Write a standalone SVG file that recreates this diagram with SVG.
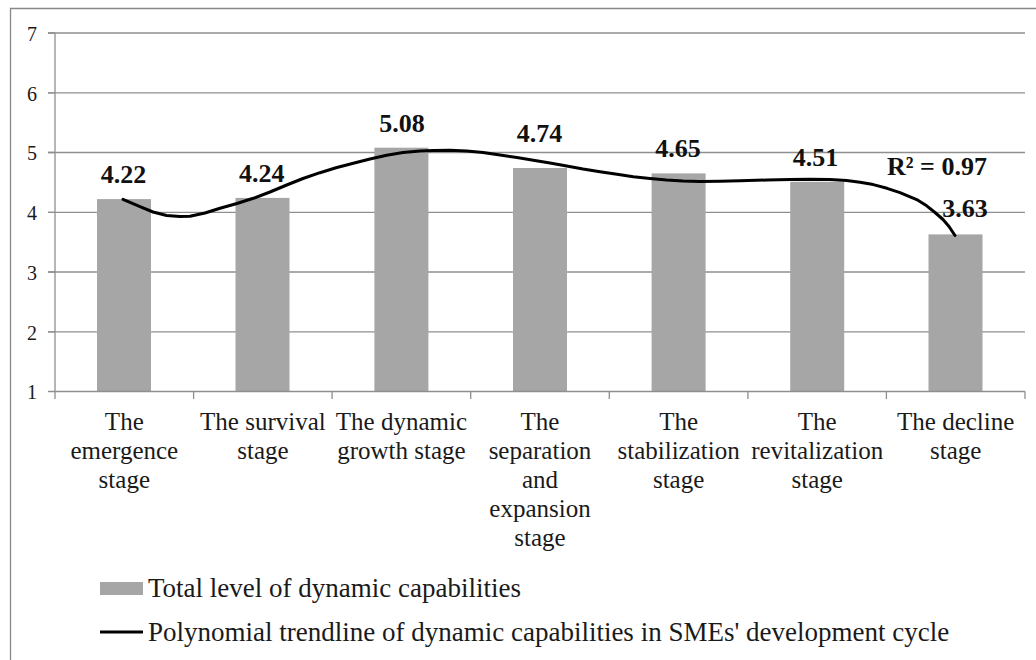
<svg xmlns="http://www.w3.org/2000/svg" width="1036" height="660" viewBox="0 0 1036 660">
<style>
.grid{stroke:#8f8f8f;stroke-width:1.3;fill:none}
.axis{stroke:#8f8f8f;stroke-width:1.3;fill:none}
.bar{fill:#a6a6a6}
text{font-family:'Liberation Serif','DejaVu Serif',serif;fill:#1a1a1a}
.tick{font-size:20px;text-anchor:end}
.cat{font-size:25px;text-anchor:middle}
.val{font-size:26px;font-weight:bold;fill:#111;text-anchor:middle}
.leg{font-size:27px}
.trend{stroke:#000;stroke-width:3;fill:none;stroke-linejoin:round;stroke-linecap:round}
</style>
<rect x="0" y="0" width="1036" height="660" fill="#fff"/>
<path d="M10.5 670 V8.5 H1040" fill="none" stroke="#888" stroke-width="1.3"/>
<g id="gridlines">
<line class="grid" x1="48" y1="33" x2="1025" y2="33"/>
<line class="grid" x1="48" y1="92.8" x2="1025" y2="92.8"/>
<line class="grid" x1="48" y1="152.5" x2="1025" y2="152.5"/>
<line class="grid" x1="48" y1="212.3" x2="1025" y2="212.3"/>
<line class="grid" x1="48" y1="272" x2="1025" y2="272"/>
<line class="grid" x1="48" y1="331.8" x2="1025" y2="331.8"/>
</g>
<g id="bars">
<rect class="bar" x="97" y="199.1" width="54" height="192.4"/>
<rect class="bar" x="235.5" y="197.9" width="54" height="193.6"/>
<rect class="bar" x="374.4" y="147.7" width="54" height="243.8"/>
<rect class="bar" x="513" y="168" width="54" height="223.5"/>
<rect class="bar" x="651.6" y="173.4" width="54" height="218.1"/>
<rect class="bar" x="790.2" y="181.8" width="54" height="209.7"/>
<rect class="bar" x="928.5" y="234.4" width="54" height="157.1"/>
</g>
<g id="axes">
<line class="axis" x1="55" y1="33" x2="55" y2="399"/>
<line class="axis" x1="48" y1="391.5" x2="1025" y2="391.5"/>
<path class="axis" d="M48 33H55M48 92.8H55M48 152.5H55M48 212.3H55M48 272H55M48 331.8H55"/>
<path class="axis" d="M193.6 391.5V399M332.1 391.5V399M470.7 391.5V399M609.3 391.5V399M747.9 391.5V399M886.4 391.5V399M1025 391.5V399"/>
<text class="tick" x="37" y="41">7</text>
<text class="tick" x="37" y="100.5">6</text>
<text class="tick" x="37" y="160.3">5</text>
<text class="tick" x="37" y="220">4</text>
<text class="tick" x="37" y="279.8">3</text>
<text class="tick" x="37" y="339.5">2</text>
<text class="tick" x="37" y="399">1</text>
</g>
<g id="category-labels">
<text class="cat" x="124.3" y="430">The</text>
<text class="cat" x="124.3" y="459">emergence</text>
<text class="cat" x="124.3" y="488">stage</text>
<text class="cat" x="262.9" y="430">The survival</text>
<text class="cat" x="262.9" y="459">stage</text>
<text class="cat" x="401.4" y="430">The dynamic</text>
<text class="cat" x="401.4" y="459">growth stage</text>
<text class="cat" x="540" y="430">The</text>
<text class="cat" x="540" y="459">separation</text>
<text class="cat" x="540" y="488">and</text>
<text class="cat" x="540" y="517">expansion</text>
<text class="cat" x="540" y="546">stage</text>
<text class="cat" x="678.6" y="430">The</text>
<text class="cat" x="678.6" y="459">stabilization</text>
<text class="cat" x="678.6" y="488">stage</text>
<text class="cat" x="817.2" y="430">The</text>
<text class="cat" x="817.2" y="459">revitalization</text>
<text class="cat" x="817.2" y="488">stage</text>
<text class="cat" x="955.7" y="430">The decline</text>
<text class="cat" x="955.7" y="459">stage</text>
</g>
<g id="connectors">
<polyline class="trend" points="123,199.3 140,206.7 153,212 166.7,215.5 180,216.5 190,216.3 205,213 220,208.3 237,203.5 253.3,198.3 270,192 286.7,185 303,178.5 320,172.7 336,167.8 353.3,163.3 370,159 386.7,155.2 403,152.6 420,151 433,150.4 450,150.2 466.7,150.9 483,152.6 500,155 517,157.5 533.3,160.2 550,163.1 566.7,166 583,169 600,171.7 617,174.3 633.3,176.7 650,178.5 666.7,180 683,181 700,181.5 720,181.3 740,180.8 766.7,180 790,179.5 810,179.3 830,179.6 846.7,180.5 860,182.2 873.3,184.6 887,188.3 900,192.6 916.7,199.6 926.7,205.8 935,212.5 943,219.5 949,226.5 955,235.5"/>
</g>
<g id="data-labels">
<text class="val" x="123.5" y="182.5">4.22</text>
<text class="val" x="261.7" y="181.5">4.24</text>
<text class="val" x="402" y="131.5">5.08</text>
<text class="val" x="539.5" y="142">4.74</text>
<text class="val" x="678" y="156.7">4.65</text>
<text class="val" x="815.5" y="165.5">4.51</text>
<text class="val" x="965" y="217.3">3.63</text>
<text class="val" x="887" y="175" style="text-anchor:start">R² = 0.97</text>
</g>
<g id="legend">
<rect class="bar" x="100" y="582" width="43" height="13"/>
<text class="leg" x="148" y="597">Total level of dynamic capabilities</text>
<line x1="100" y1="632" x2="143" y2="632" stroke="#000" stroke-width="3"/>
<text class="leg" x="148" y="641">Polynomial trendline of dynamic capabilities in SMEs' development cycle</text>
</g>
</svg>
